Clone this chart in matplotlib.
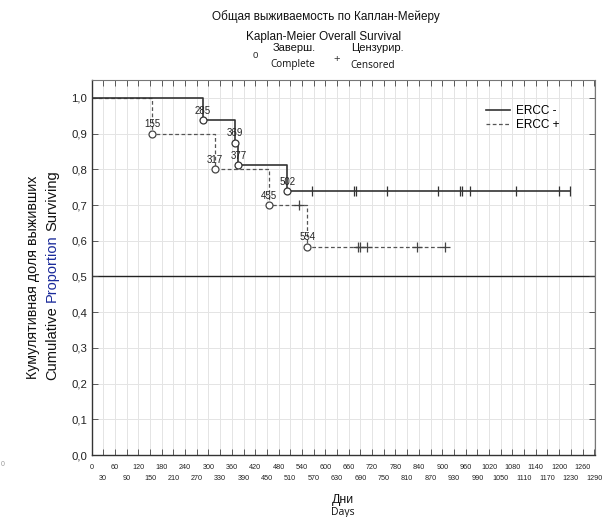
import matplotlib
matplotlib.use("Agg")
import matplotlib.pyplot as plt
import numpy as np

# ---- data ----
minus_event_days = [285, 369, 377, 502]
minus_event_surv = [0.9375, 0.875, 0.8125, 0.7386]
minus_censor_days = [567, 673, 678, 759, 890, 945, 950, 971, 1090, 1200, 1228]
minus_end_day = 1228

plus_event_days = [155, 317, 455, 554]
plus_event_surv = [0.9, 0.8, 0.7, 0.5833]
plus_censor_days = [532, 685, 690, 707, 835, 908]
plus_end_day = 908

x_ticks = list(range(0, 1291, 30))
y_ticks = [0.0, 0.1, 0.2, 0.3, 0.4, 0.5, 0.6, 0.7, 0.8, 0.9, 1.0]
y_tick_labels = ["0,0", "0,1", "0,2", "0,3", "0,4", "0,5", "0,6", "0,7", "0,8", "0,9", "1,0"]

plt.rcParams['font.family'] = ['Liberation Sans', 'DejaVu Sans']

fig = plt.figure(figsize=(6.11, 5.17), dpi=100)
ax = fig.add_axes([0.1498, 0.1199, 0.824, 0.7253])

ax.set_xlim(0, 1292)
ax.set_ylim(0, 1.05)

# grid
for xt in x_ticks[1:]:
    ax.axvline(xt, color='#e4e4e4', lw=0.7, zorder=0)
for yt in y_ticks[1:]:
    ax.axhline(yt, color='#e4e4e4', lw=0.7, zorder=0)
ax.axhline(0.5, color='#222222', lw=1.0, zorder=1)


def step_coords(days, surv, end_day):
    xs = [0]
    ys = [1.0]
    cur = 1.0
    for d, s in zip(days, surv):
        xs += [d, d]
        ys += [cur, s]
        cur = s
    xs.append(end_day)
    ys.append(cur)
    return xs, ys


def surv_at(days, surv, t):
    cur = 1.0
    for d, s in zip(days, surv):
        if t >= d:
            cur = s
    return cur

# ERCC - (solid)
mx, my = step_coords(minus_event_days, minus_event_surv, minus_end_day)
ax.plot(mx, my, color='#333333', lw=1.2, zorder=3, label='ERCC -')
ax.plot(minus_event_days, minus_event_surv, 'o', mfc='white', mec='#333333',
        ms=5, mew=0.9, zorder=4)
mc_y = [surv_at(minus_event_days, minus_event_surv, d) for d in minus_censor_days]
ax.plot(minus_censor_days, mc_y, '|', color='#333333', ms=7, mew=0.9, zorder=4)

# ERCC + (dashed)
px, py = step_coords(plus_event_days, plus_event_surv, plus_end_day)
ax.plot(px, py, color='#555555', lw=0.9, ls=(0, (3, 2)), zorder=2, label='ERCC +')
ax.plot(plus_event_days, plus_event_surv, 'o', mfc='white', mec='#444444',
        ms=5, mew=0.9, zorder=4)
pc_y = [surv_at(plus_event_days, plus_event_surv, d) for d in plus_censor_days]
ax.plot(plus_censor_days, pc_y, '+', color='#444444', ms=7, mew=0.9, zorder=4)

# event labels
for d, s in zip(minus_event_days + plus_event_days, minus_event_surv + plus_event_surv):
    ax.text(d, s + 0.012, str(d), ha='center', va='bottom', fontsize=7, color='#222222', zorder=5)

# ticks: even multiples of 30 on the first row, odd ones on the second row
major = x_ticks[0::2]
minor = x_ticks[1::2]
ax.set_xticks(major)
ax.set_xticklabels([str(t) for t in major], fontsize=5.2, color='#222222')
ax.set_xticks(minor, minor=True)
ax.set_xticklabels([str(t) for t in minor], minor=True, fontsize=5.2, color='#222222')
ax.set_yticks(y_ticks)
ax.set_yticklabels(y_tick_labels, fontsize=8.2, color='#222222')
ax.tick_params(axis='both', which='both', direction='in', top=True, right=True, length=4,
               width=0.6, color='#444444')
ax.tick_params(axis='y', pad=3)
ax.tick_params(axis='x', which='major', pad=6.7)
ax.tick_params(axis='x', which='minor', pad=14.7)
for sp in ['left', 'bottom']:
    ax.spines[sp].set_color('#333333')
    ax.spines[sp].set_linewidth(1.0)
for sp in ['top', 'right']:
    ax.spines[sp].set_color('#777777')
    ax.spines[sp].set_linewidth(0.8)

leg = ax.legend(loc='upper right', bbox_to_anchor=(0.95, 0.962), frameon=False,
                fontsize=8.5, handlelength=2.0, handletextpad=0.5, labelspacing=0.15)

# titles
fig.text(0.533, 1 - 17 / 517, "Общая выживаемость по Каплан-Мейеру", ha='center', va='center',
         fontsize=8.5, color='#111111')
fig.text(0.529, 1 - 37 / 517, "Kaplan-Meier Overall Survival", ha='center', va='center',
         fontsize=8.5, color='#111111')
fig.text(255 / 611, 1 - 55 / 517, "o", ha='center', va='center', fontsize=7, color='#333333')
fig.text(294 / 611, 1 - 48 / 517, "Заверш.", ha='center', va='center', fontsize=8, color='#111111')
fig.text(293 / 611, 1 - 65 / 517, "Complete", ha='center', va='center', fontsize=7.2, color='#111111',
         family=['Open Sans', 'DejaVu Sans'])
fig.text(337 / 611, 1 - 59 / 517, "+", ha='center', va='center', fontsize=8, color='#333333')
fig.text(377 / 611, 1 - 48 / 517, "Цензурир.", ha='center', va='center', fontsize=8, color='#111111')
fig.text(373 / 611, 1 - 65 / 517, "Censored", ha='center', va='center', fontsize=7.2, color='#111111',
         family=['Open Sans', 'DejaVu Sans'])

# x label
fig.text(343 / 611, 1 - 500 / 517, "Дни", ha='center', va='center', fontsize=8.8, color='#111111')
fig.text(343 / 611, 1 - 513 / 517, "Days", ha='center', va='center', fontsize=7.5, color='#111111',
         family=['Open Sans', 'DejaVu Sans'])

# y label (two lines, "Proportion" highlighted blue)
fig.text(33 / 611, 1 - 277 / 517, "Кумулятивная доля выживших", rotation=90, ha='center',
         va='center', fontsize=10.3, color='#111111')

fig.canvas.draw()
r = fig.canvas.get_renderer()
parts = [("Cumulative", '#111111'), ("Proportion", '#1a2a9a'), ("Surviving", '#111111')]
fs = 10.5
tmp = [fig.text(0, 0, p, rotation=90, fontsize=fs) for p, _ in parts]
heights = [t.get_window_extent(r).height for t in tmp]
sp_t = fig.text(0, 0, "a a", fontsize=fs)
sp_t2 = fig.text(0, 0, "aa", fontsize=fs)
space_w = sp_t.get_window_extent(r).width - sp_t2.get_window_extent(r).width
for t in tmp + [sp_t, sp_t2]:
    t.remove()
total = sum(heights) + 2 * space_w
fig_h_px = fig.get_figheight() * fig.dpi
center_px = fig_h_px - 275
start = center_px - total / 2
for (p, c), h in zip(parts, heights):
    fig.text(52 / 611, start / fig_h_px, p, rotation=90, ha='center', va='bottom',
             fontsize=fs, color=c)
    start += h + space_w

fig.text(3 / 611, 1 - 465 / 517, "0", ha='center', va='center', fontsize=5, color='#999999')

fig.savefig("out.png", dpi=100)
